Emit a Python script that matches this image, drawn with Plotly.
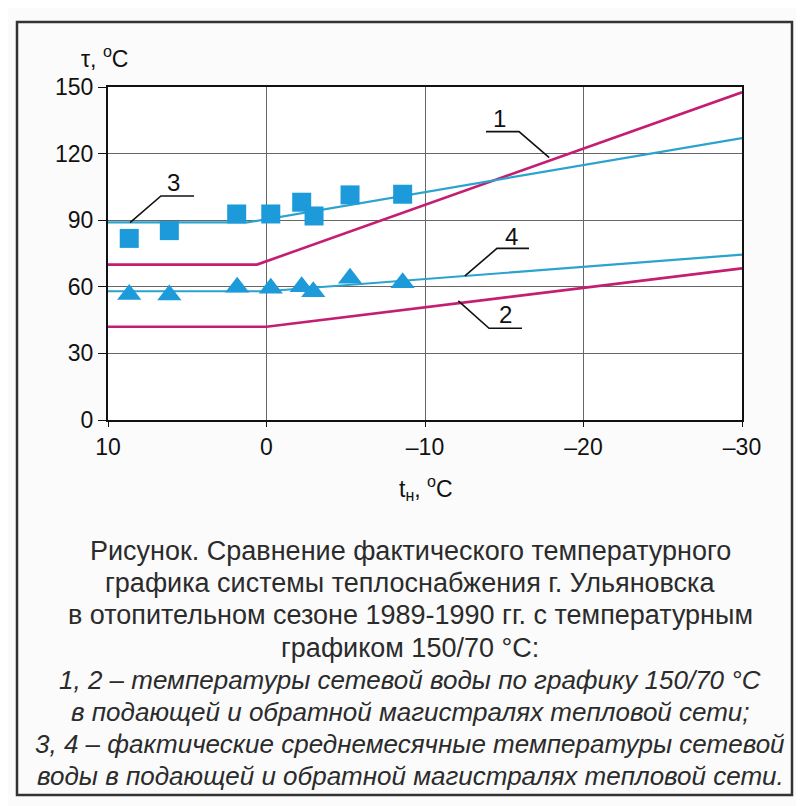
import plotly.graph_objects as go

# ---- data ----
t_line1 = [10, 0.6, -30]
v_line1 = [70, 70, 147.6]
t_line2 = [10, 0, -30]
v_line2 = [42, 42, 68.3]
t_line3 = [10, 1.2, -30]
v_line3 = [89, 89, 127]
t_line4 = [10, 0, -30]
v_line4 = [58, 58, 74.5]

t_sq = [8.66, 6.13, 1.88, -0.27, -2.22, -3.0, -5.27, -8.59]
v_sq = [81.8, 85.3, 92.8, 92.8, 98.1, 91.9, 101.4, 101.7]
t_tri = [8.66, 6.13, 1.85, -0.27, -2.22, -2.95, -5.27, -8.59]
v_tri = [56.5, 56.3, 59.8, 59.3, 60.0, 57.8, 63.8, 61.8]

x_ticks = [10, 0, -10, -20, -30]
x_ticklabels = ["10", "0", "–10", "–20", "–30"]
y_ticks = [0, 30, 60, 90, 120, 150]

# curve labels: (label, label_t, label_v, [(t,v) leader polyline])
labels = [
    ("1", -14.69, 136.0, [(-13.85, 129.9), (-15.93, 129.9), (-17.84, 118.2)]),
    ("2", -15.11, 47.3, [(-16.12, 41.3), (-14.04, 41.3), (-12.1, 53.7)]),
    ("3", 5.84, 107.2, [(4.57, 100.9), (6.66, 100.9), (8.61, 88.9)]),
    ("4", -15.47, 82.6, [(-16.56, 77.3), (-14.54, 77.3), (-12.52, 64.9)]),
]

caption = [
    ("Рисунок. Сравнение фактического температурного", False),
    ("графика системы теплоснабжения г. Ульяновска", False),
    ("в отопительном сезоне 1989-1990 гг. с температурным", False),
    ("графиком 150/70 °С:", False),
    ("1, 2 – температуры сетевой воды по графику 150/70 °С", True),
    ("в подающей и обратной магистралях тепловой сети;", True),
    ("3, 4 – фактические среднемесячные температуры сетевой", True),
    ("воды в подающей и обратной магистралях тепловой сети.", True),
]

# ---- layout geometry (reference pixel coords; page has an 8px body margin) ----
OFF = 8
W, H = 804 - OFF, 806 - OFF
L, R, T, B = 108 - OFF, 742 - OFF, 87 - OFF, 420 - OFF
FONT = "Liberation Sans, Arial, sans-serif"
MAG = "#c41e72"
CYAN = "#2ba3cf"
MARK = "#1c9ad9"


def px(x):
    return (x - OFF - L) / (R - L)


def py(y):
    return (B - (y - OFF)) / (B - T)


fig = go.Figure()
fig.add_trace(go.Scatter(x=t_line1, y=v_line1, mode="lines", line=dict(color=MAG, width=2.6)))
fig.add_trace(go.Scatter(x=t_line2, y=v_line2, mode="lines", line=dict(color=MAG, width=2.6)))
fig.add_trace(go.Scatter(x=t_line3, y=v_line3, mode="lines", line=dict(color=CYAN, width=2.2)))
fig.add_trace(go.Scatter(x=t_line4, y=v_line4, mode="lines", line=dict(color=CYAN, width=2.2)))
fig.add_trace(go.Scatter(x=t_sq, y=v_sq, mode="markers",
                         marker=dict(symbol="square", size=19, color=MARK)))
fig.add_trace(go.Scatter(x=t_tri, y=v_tri, mode="markers",
                         marker=dict(symbol="triangle-up", size=21, color=MARK)))

for lab, lt, lv, pts in labels:
    fig.add_trace(go.Scatter(x=[p[0] for p in pts], y=[p[1] for p in pts], mode="lines",
                             line=dict(color="#111", width=1.6)))
    fig.add_annotation(x=lt, y=lv, text=lab, showarrow=False, xanchor="center", yanchor="middle",
                       font=dict(family=FONT, size=24, color="#111"))

# axis titles
fig.add_annotation(xref="paper", yref="paper", x=px(104), y=py(57), text="τ, <sup>o</sup>C",
                   showarrow=False, xanchor="center", yanchor="middle",
                   font=dict(family=FONT, size=23, color="#111"))
fig.add_annotation(xref="paper", yref="paper", x=px(426), y=py(488), text="t<sub>н</sub>, <sup>o</sup>C",
                   showarrow=False, xanchor="center", yanchor="middle",
                   font=dict(family=FONT, size=23, color="#111"))

# caption
for i, (line, ital) in enumerate(caption):
    ycap = 551 + i * 32.2
    txt = f"<i>{line}</i>" if ital else line
    fig.add_annotation(xref="paper", yref="paper", x=px(410), y=py(ycap), text=txt,
                       showarrow=False, xanchor="center", yanchor="middle",
                       font=dict(family=FONT, size=26 if ital else 27, color="#2b2b2b"))

# frame
fig.add_shape(type="rect", xref="paper", yref="paper",
              x0=px(17), x1=px(792), y0=py(795), y1=py(22),
              line=dict(color="#333", width=2.5), layer="below")

fig.update_layout(
    width=W, height=H,
    margin=dict(l=L, r=W - R, t=T, b=H - B),
    paper_bgcolor="#fbfbfb", plot_bgcolor="white",
    showlegend=False,
    font=dict(family=FONT, color="#111"),
)
fig.update_xaxes(range=[10, -30], tickvals=x_ticks, ticktext=x_ticklabels,
                 showgrid=True, gridcolor="#666666", gridwidth=1,
                 showline=True, linecolor="#111", linewidth=2, mirror=True,
                 ticks="outside", ticklen=5, tickcolor="#111",
                 tickfont=dict(family=FONT, size=23, color="#111"), zeroline=False)
fig.update_yaxes(range=[0, 150], tickvals=y_ticks,
                 showgrid=True, gridcolor="#666666", gridwidth=1,
                 showline=True, linecolor="#111", linewidth=2, mirror=True,
                 ticks="outside", ticklen=8, tickcolor="#111",
                 tickfont=dict(family=FONT, size=23, color="#111"), zeroline=False)

fig.write_html("out.html")
